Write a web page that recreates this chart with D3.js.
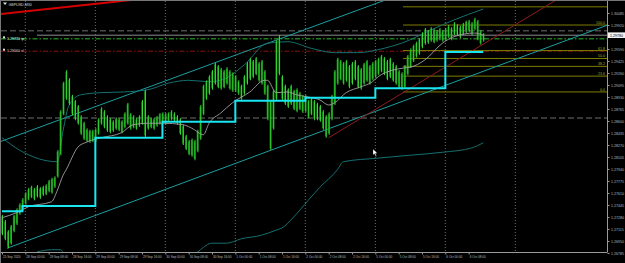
<!DOCTYPE html>
<html><head><meta charset="utf-8">
<script src="https://cdn.jsdelivr.net/npm/d3@7/dist/d3.min.js"></script>
<style>html,body{margin:0;padding:0;background:#000;}svg{display:block;}</style>
</head><body>
<script>
// ---------- DATA ----------
const symbolTitle = "GBPUSD,M30";
// hourly highs / lows (bar 0 = 25 Sep 16:00)
const barHigh = [
1.2731,1.2724,1.2710,1.2717,1.2731,1.2740,1.2747,1.2754,
1.2762,1.2768,1.2771,1.2768,1.2772,1.2769,1.2771,1.2773,1.2779,1.2782,1.2784,1.2820,1.2875,1.2914,1.2930,1.2919,1.2896,1.2889,1.2882,1.2868,1.2859,1.2850,1.2848,1.2848,
1.2850,1.2864,1.2879,1.2875,1.2868,1.2864,1.2861,1.2865,1.2864,1.2861,1.2872,1.2885,1.2871,1.2868,1.2864,1.2868,1.2889,1.2903,1.2868,1.2865,1.2864,1.2867,1.2871,1.2872,
1.2871,1.2872,1.2875,1.2872,1.2868,1.2864,1.2855,1.2841,1.2834,1.2836,1.2834,1.2848,1.2882,1.2910,1.2916,1.2923,1.2930,1.2940,1.2937,1.2933,1.2930,1.2934,1.2930,1.2927,
1.2923,1.2916,1.2910,1.2923,1.2941,1.2947,1.2944,1.2948,1.2941,1.2944,1.2930,1.2910,1.2889,1.2903,1.2971,1.2978,1.2923,1.2910,1.2905,1.2910,1.2903,1.2905,1.2900,1.2896,
1.2896,1.2889,1.2892,1.2889,1.2885,1.2882,1.2875,1.2868,1.2872,1.2896,1.2930,1.2947,1.2944,1.2941,1.2944,1.2937,1.2941,1.2944,1.2937,1.2933,1.2940,1.2944,1.2937,1.2941,
1.2944,1.2947,1.2951,1.2948,1.2944,1.2947,1.2941,1.2937,1.2930,1.2927,1.2937,1.2951,1.2960,1.2965,1.2969,1.2974,1.2982,1.2988,1.2985,1.2989,1.2987,1.2985,1.2988,1.2985,
1.2988,1.2992,1.2989,1.2996,1.2993,1.2991,1.2995,1.2998,1.2999,1.2996,1.3002,1.2999,1.2985,1.2981];
const barLow = [
1.2703,1.2696,1.2685,1.2690,1.2707,1.2717,1.2731,1.2738,
1.2745,1.2751,1.2754,1.2751,1.2755,1.2753,1.2757,1.2758,1.2762,1.2760,1.2768,1.2782,1.2813,1.2868,1.2889,1.2882,1.2868,1.2861,1.2855,1.2841,1.2834,1.2831,1.2830,1.2831,
1.2831,1.2841,1.2855,1.2850,1.2845,1.2843,1.2845,1.2848,1.2846,1.2843,1.2850,1.2855,1.2848,1.2850,1.2848,1.2852,1.2855,1.2838,1.2848,1.2850,1.2848,1.2852,1.2855,1.2857,
1.2855,1.2859,1.2861,1.2859,1.2855,1.2841,1.2827,1.2820,1.2813,1.2811,1.2806,1.2817,1.2834,1.2868,1.2889,1.2896,1.2903,1.2910,1.2905,1.2903,1.2905,1.2910,1.2903,1.2900,
1.2900,1.2896,1.2889,1.2896,1.2910,1.2916,1.2919,1.2923,1.2914,1.2910,1.2896,1.2861,1.2820,1.2848,1.2889,1.2923,1.2889,1.2882,1.2878,1.2882,1.2875,1.2872,1.2875,1.2871,
1.2872,1.2864,1.2868,1.2861,1.2861,1.2859,1.2848,1.2837,1.2841,1.2861,1.2882,1.2910,1.2916,1.2910,1.2914,1.2905,1.2910,1.2916,1.2905,1.2903,1.2910,1.2914,1.2910,1.2916,
1.2919,1.2923,1.2927,1.2923,1.2916,1.2919,1.2914,1.2910,1.2905,1.2903,1.2905,1.2923,1.2933,1.2941,1.2947,1.2951,1.2960,1.2965,1.2966,1.2969,1.2967,1.2969,1.2971,1.2969,
1.2971,1.2974,1.2971,1.2978,1.2977,1.2974,1.2978,1.2981,1.2982,1.2978,1.2985,1.2971,1.2965,1.2969];

// moving average (bar index, price)
const maIdx = [0,5,9,17,19,21,22,26,29,34,41,45,50,55,62,66,69,71,75,79,85,90,91,94,98,101,105,109,112,114,118,123,127,129,134,138,140,145,151,155,162,165];
const maVal = [1.2727,1.2734,1.2742,1.2749,1.2765,1.2786,1.2793,1.2824,1.2831,1.2837,1.2844,1.2855,1.2857,1.2857,1.2855,1.2848,1.2841,1.2857,1.2871,1.2885,1.2900,1.2916,1.2916,1.2899,1.2900,1.2896,1.2893,1.2889,1.2882,1.2885,1.2899,1.2907,1.2914,1.2921,1.2930,1.2933,1.2934,1.2944,1.2967,1.2976,1.2981,1.2978];

// upper / lower envelope bands
const upIdx = [0,6,19,21,23,27,34,42,50,57,64,71,75,83,91,98,106,114,122,131,137,147,155,165];
const upVal = [1.2837,1.2820,1.2804,1.2848,1.2882,1.2896,1.2899,1.2900,1.2903,1.2912,1.2916,1.2914,1.2916,1.2937,1.2967,1.2969,1.2960,1.2954,1.2954,1.2960,1.2967,1.2985,1.2999,1.3014];
const loIdx = [12,17,20,22,34,51,65,68,72,77,82,89,94,96,100,105,109,115,117,129,140,151,161,165];
const loVal = [1.2680,1.2683,1.2683,1.2672,1.2628,1.2641,1.2672,1.2683,1.2692,1.2692,1.2698,1.2703,1.2710,1.2713,1.2728,1.2751,1.2769,1.2793,1.2804,1.2809,1.2813,1.2817,1.2823,1.2830];

// cyan step level
const stepIdx = [0,7,32,55,80,104,128,152,165];
const stepVal = [1.2736,1.2743,1.2837,1.2859,1.2888,1.2892,1.2905,1.2955];

// trend lines: [idx1, price1, idx2, price2]
const channelUpper = [20,1.2862,100,1.2980];
const channelLower = [1.7,1.2685,150,1.2906];
const redTop = [-1,1.3007,41,1.3025];
const redRay = [112,1.2837,140,1.2905];

// horizontal levels
const levelDash1 = 1.2984, levelBid = 1.2978, levelTP = 1.2973, levelSL = 1.2956, levelDash2 = 1.2864;
const tpLabel = "1.29730 tp", slLabel = "1.29560 sl", bidLabel = "1.29780";

// fibonacci
const fibStartIdx = 137.5, fib0 = 1.2900, fib100 = 1.2992;
const fibLevels = [0, 0.236, 0.382, 0.5, 0.618, 1.0, 1.272];
const fibLabels = ["0.0","23.6","38.2","50.0","61.8","100.0","127.2"];

// axis ticks (the 1.29755 slot is covered by the price box)
const priceTicks = [1.30085,1.29920,1.29590,1.29425,1.29260,1.29095,1.28930,1.28765,1.28600,1.28435,1.28270,1.28105,1.27940,1.27775,1.27610,1.27445,1.27280,1.27115,1.26950,1.26785];
const timeTickIdx = [0,8,16,24,32,40,48,56,64,72,80,88,96,104,112,120,128,136,144,152,160];
const timeTickLabels = ["25 Sep 2020","28 Sep 00:00","28 Sep 08:00","28 Sep 16:00","29 Sep 00:00","29 Sep 08:00","29 Sep 16:00","30 Sep 00:00","30 Sep 08:00","30 Sep 16:00","1 Oct 00:00","1 Oct 08:00","1 Oct 16:00","2 Oct 00:00","2 Oct 08:00","2 Oct 16:00","5 Oct 00:00","5 Oct 08:00","5 Oct 16:00","6 Oct 00:00","6 Oct 08:00"];
const dayGridIdx = [8,32,56,80,104,128,152,176];

// ---------- CHART ----------
const W = 625, H = 263;
const plotL = 1, plotR = 607, plotT = 1, plotB = 252;
const FONT = "'Liberation Sans', Arial, sans-serif";
const x = d3.scaleLinear().domain([0, 207.43]).range([2, 607]);
const y = d3.scaleLinear().domain([1.26799, 1.30264]).range([252, 0]);

const svg = d3.select("body").append("svg").attr("width", W).attr("height", H).style("font-family", FONT);
svg.append("rect").attr("width", W).attr("height", H).attr("fill", "#000");
svg.append("defs").append("clipPath").attr("id", "plot")
  .append("rect").attr("x", plotL).attr("y", plotT).attr("width", plotR - plotL).attr("height", plotB - plotT);

const g = svg.append("g").attr("clip-path", "url(#plot)");

// grid (vertical dotted)
g.selectAll("line.grid").data(dayGridIdx).join("line")
  .attr("x1", d => x(d)).attr("x2", d => x(d)).attr("y1", plotT).attr("y2", plotB)
  .attr("stroke", "#8a8a8a").attr("stroke-width", 0.8).attr("stroke-dasharray", "1,2");

// horizontal levels
function hline(p, color, dash, w, x0) {
  g.append("line").attr("x1", x0 || plotL).attr("x2", plotR).attr("y1", y(p)).attr("y2", y(p))
    .attr("stroke", color).attr("stroke-width", w).attr("stroke-dasharray", dash);
}
hline(levelDash1, "#6e6e6e", "6,3", 1);
hline(levelDash2, "#4a4a4a", "6,3", 1.5);
hline(levelBid, "#8c8c8c", null, 1, 37);
hline(levelTP, "#2db82d", "5,2,1.5,2", 1);
hline(levelSL, "#8a1212", "5,2,1.5,2", 1);

// fibonacci
const fibRange = fib100 - fib0;
fibLevels.forEach((lv, k) => {
  const p = fib0 + lv * fibRange;
  g.append("line").attr("x1", x(fibStartIdx)).attr("x2", plotR).attr("y1", y(p)).attr("y2", y(p))
    .attr("stroke", "#7d7d00").attr("stroke-width", 1);
  if (lv < 1.2)
    svg.append("text").attr("x", 605).attr("y", y(p) - 1).attr("text-anchor", "end")
      .attr("font-size", 3.6).attr("fill", "#a8a820").text(fibLabels[k]);
});

// trend lines
function trend(a, color, w, fromLeftAnchor) {
  const slope = (a[3] - a[1]) / (a[2] - a[0]);
  const i0 = fromLeftAnchor ? a[0] : -20, i1 = 260;
  g.append("line").attr("x1", x(i0)).attr("y1", y(a[1] + slope * (i0 - a[0])))
    .attr("x2", x(i1)).attr("y2", y(a[1] + slope * (i1 - a[0])))
    .attr("stroke", color).attr("stroke-width", w);
}
trend(channelUpper, "#1b9e9e", 1, false);
trend(channelLower, "#1b9e9e", 1, true);
trend(redTop, "#d40000", 2, false);
trend(redRay, "#8e1b1b", 1, true);

// bands
const curve = (idx, val) => d3.line().x((d, k) => x(idx[k])).y((d, k) => y(val[k])).curve(d3.curveMonotoneX)(val);
g.append("path").attr("d", curve(upIdx, upVal)).attr("fill", "none").attr("stroke", "#157070").attr("stroke-width", 1);
g.append("path").attr("d", curve(loIdx, loVal)).attr("fill", "none").attr("stroke", "#157070").attr("stroke-width", 1);

// bars
const bars = g.append("g");
barHigh.forEach((h, i) => {
  const l = barLow[i];
  bars.append("rect").attr("x", x(i) - 0.8).attr("width", 1.7)
    .attr("y", y(h) + 1.5).attr("height", Math.max(0.5, y(l) - y(h) - 3)).attr("fill", "#0b7d0b");
  bars.append("line").attr("x1", x(i) + 0.5).attr("x2", x(i) + 0.5).attr("y1", y(h)).attr("y2", y(l))
    .attr("stroke", "#3ee83e").attr("stroke-width", 0.9);
});

// moving average
g.append("path").attr("d", curve(maIdx, maVal)).attr("fill", "none").attr("stroke", "#a0a0a0").attr("stroke-width", 0.9);

// cyan step
const stepPts = [];
stepVal.forEach((v, k) => { stepPts.push([stepIdx[k], v]); stepPts.push([stepIdx[k + 1], v]); });
g.append("path").attr("d", d3.line().x(d => x(d[0])).y(d => y(d[1]))(stepPts))
  .attr("fill", "none").attr("stroke", "#19e6f0").attr("stroke-width", 2);

// left labels
[[levelTP, tpLabel, "#cfe"], [levelSL, slLabel, "#dcc"]].forEach(d => {
  svg.append("rect").attr("x", 3).attr("y", y(d[0]) - 2.5).attr("width", 2).attr("height", 2).attr("fill", "#ddd");
  svg.append("text").attr("x", 7).attr("y", y(d[0]) + 0.8).attr("font-size", 3.6).attr("fill", d[2]).text(d[1]);
});

// title
svg.append("path").attr("d", "M3,2.5 L7,2.5 L5,5 Z").attr("fill", "#ddd");
svg.append("text").attr("x", 8.5).attr("y", 5.5).attr("font-size", 3.6).attr("fill", "#ddd").text(symbolTitle);

// cursor
svg.append("path").attr("d", "M373,149 L373,155 L374.5,153.8 L375.8,156.5 L376.6,156.1 L375.4,153.4 L377.3,153.3 Z")
  .attr("fill", "#fff").attr("stroke", "#000").attr("stroke-width", 0.3);

// axes frame
svg.append("line").attr("x1", plotR + 0.5).attr("x2", plotR + 0.5).attr("y1", 0).attr("y2", plotB).attr("stroke", "#9a9a9a");
svg.append("line").attr("x1", 0).attr("x2", plotR + 0.5).attr("y1", plotB + 0.5).attr("y2", plotB + 0.5).attr("stroke", "#9a9a9a");
svg.append("line").attr("x1", 0.5).attr("x2", 0.5).attr("y1", 0).attr("y2", H).attr("stroke", "#777");
svg.append("line").attr("x1", 0).attr("x2", W).attr("y1", 0.5).attr("y2", 0.5).attr("stroke", "#777");

const yAxis = d3.axisRight(y).tickValues(priceTicks).tickFormat(d3.format(".5f")).tickSize(2).tickPadding(1.5);
const ya = svg.append("g").attr("transform", `translate(${plotR + 0.5},0)`).call(yAxis);
ya.select(".domain").remove();
ya.selectAll("line").attr("stroke", "#999");
ya.selectAll("text").attr("font-size", 3.6).attr("fill", "#bbb").attr("font-family", FONT);

const xAxis = d3.axisBottom(x).tickValues(timeTickIdx).tickFormat((d, k) => timeTickLabels[k]).tickSize(2).tickPadding(1);
const xa = svg.append("g").attr("transform", `translate(0,${plotB + 0.5})`).call(xAxis);
xa.select(".domain").remove();
xa.selectAll("line").attr("stroke", "#999");
xa.selectAll("text").attr("font-size", 3.1).attr("fill", "#bbb").attr("text-anchor", "start").attr("dx", 0.5)
  .attr("font-family", FONT);

// current price box
svg.append("rect").attr("x", plotR + 1).attr("y", y(levelBid) - 2.8).attr("width", 17).attr("height", 5.6).attr("fill", "#f2f2f2");
svg.append("text").attr("x", plotR + 3).attr("y", y(levelBid) + 1.3).attr("font-size", 3.6).attr("fill", "#000").text(bidLabel);
</script>
</body></html>
